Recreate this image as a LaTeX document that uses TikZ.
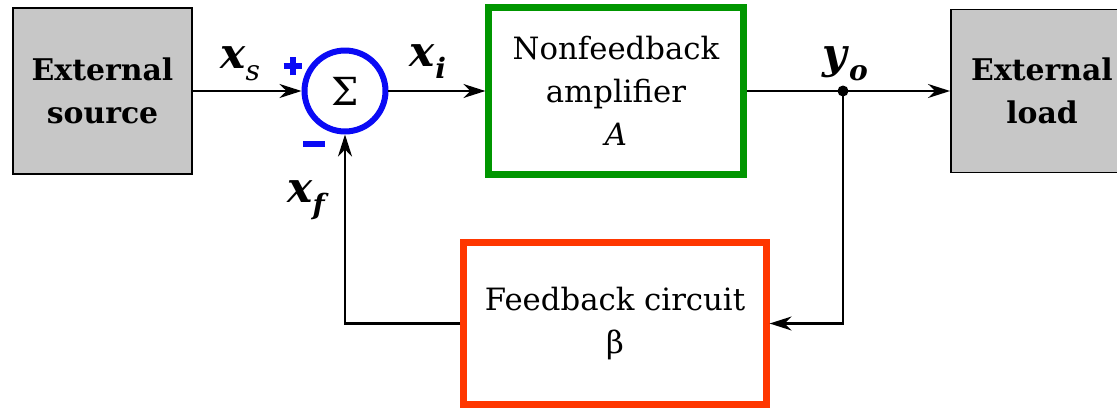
\documentclass[tikz,border=0pt]{standalone}
\usepackage{fontspec}
\setmainfont{DejaVu Serif}
\usetikzlibrary{arrows.meta,positioning,calc}

\definecolor{sumblue}{RGB}{10,10,245}
\definecolor{ampgreen}{RGB}{0,150,0}
\definecolor{fbred}{RGB}{255,55,0}

% signal label: bold italic letter with a subscript
\newcommand{\sgl}[2]{\textbf{\textit{#1}}\raisebox{-0.55ex}{\fontsize{16}{16}\selectfont\textit{#2}}}

\begin{document}
\begin{tikzpicture}[
  x=0.02cm, y=-0.02cm,
  >={Stealth[length=4.4mm,width=2.8mm,inset=1.4mm]},
  ext/.style={draw, line width=1.1pt, fill=black!22, align=center, font=\fontsize{17}{24.5}\selectfont\bfseries},
  block/.style={draw, line width=3.6pt, fill=white, align=center, font=\fontsize{17.5}{24.5}\selectfont},
  summer/.style={draw=sumblue, circle, line width=3.4pt, minimum size=1.62cm, inner sep=0pt, font=\fontsize{22}{22}\selectfont},
  lbl/.style={font=\fontsize{24}{24}\selectfont},
  sign/.style={text=sumblue, inner sep=0pt},
  dot/.style={circle, fill, inner sep=0pt, minimum size=0.22cm},
  wire/.style={line width=1.2pt}
]
\useasboundingbox (0,0) rectangle (1117,409);

\node[ext, minimum width=3.58cm, minimum height=3.32cm] (src) at (102.5,91) {External\\source};
\node[summer] (sum) at (345,91) {Σ};
\node[block, draw=ampgreen, minimum width=5.1cm, minimum height=3.34cm] (amp) at (616,91) {Nonfeedback\\amplifier\\\textit{A}};
\node[ext, minimum width=3.64cm, minimum height=3.26cm] (load) at (1042,91) {External\\load};
\node[block, draw=fbred, minimum width=6.06cm, minimum height=3.24cm] (fb) at (615,323.5) {Feedback circuit\\β};
\node[dot] (jct) at (843,91) {};

\node[lbl] (xs) at (240,64) {\sgl{x}{s}};
\node[lbl] (xi) at (428,62) {\sgl{x}{\textbf{i}}};
\node[lbl] (xf) at (308,200) {\sgl{x}{\textbf{f}}};
\node[lbl] (yo) at (845,64) {\sgl{y}{\textbf{o}}};
\node[sign] (plus) at (293,66) {\makebox[0pt]{\rule[-0.19cm]{0.12cm}{0.38cm}}\makebox[0pt]{\rule[-0.06cm]{0.38cm}{0.12cm}}};
\node[sign] (minus) at (314,144) {\rule{0.44cm}{0.13cm}};

\draw[wire,->] (src) -- (sum);
\draw[wire,->] (sum) -- (amp);
\draw[wire,->] (amp) -- (load);
\draw[wire,->] (jct.center) |- (fb);
\draw[wire,->] (fb) -| (sum);

\end{tikzpicture}
\end{document}
